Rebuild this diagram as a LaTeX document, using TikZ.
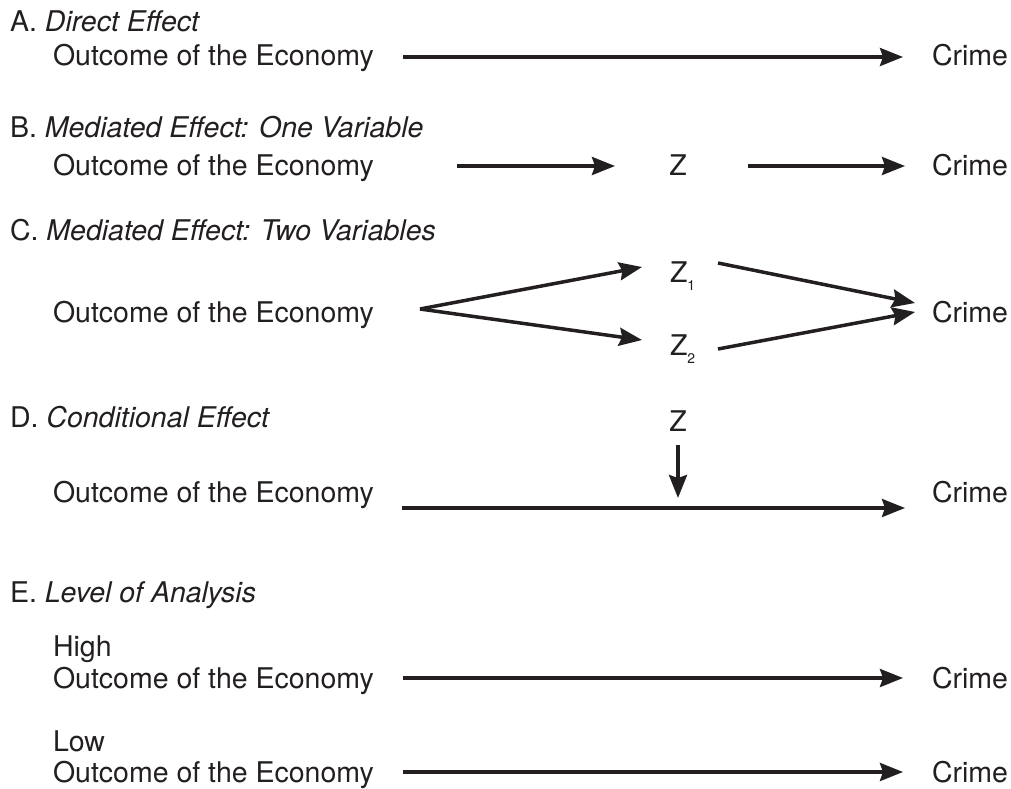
\documentclass[tikz,border=0pt]{standalone}
\usepackage{fontspec}
\setmainfont{TeX Gyre Heros}
\usetikzlibrary{arrows.meta}
\definecolor{ink}{HTML}{231F20}
\begin{document}
\begin{tikzpicture}[x=1pt,y=-1pt,
  txt/.style={inner sep=0pt,outer sep=0pt,anchor=base west,text=ink,font=\fontsize{28.5}{34}\selectfont},
  ctr/.style={txt,anchor=base},
  arr/.style={draw=ink,line width=3.5pt,-{Stealth[length=23pt,width=18pt,inset=3pt]}}]
\useasboundingbox (0,0) rectangle (1011,789);
\newcommand{\zsub}[1]{Z\raisebox{-8pt}{\fontsize{14}{14}\selectfont #1}}
% A
\node[txt] (labA) at (10,32) {A. \textit{Direct Effect}};
\node[txt] (outA) at (53,66) {Outcome of the Economy};
\node[txt] (crA) at (932,66) {Crime};
\coordinate (a0) at (403,57);
\coordinate (a1) at (903,57);
\draw[arr] (a0) -- (a1);
% B
\node[txt] (labB) at (10,137) {B. \textit{Mediated Effect: One Variable}};
\node[txt] (outB) at (53,175) {Outcome of the Economy};
\node[ctr] (zB) at (678,175) {Z};
\node[txt] (crB) at (932,175) {Crime};
\coordinate (b0) at (457,166);
\coordinate (b1) at (615,166);
\coordinate (b2) at (748,166);
\coordinate (b3) at (905,166);
\draw[arr] (b0) -- (b1);
\draw[arr] (b2) -- (b3);
% C
\node[txt] (labC) at (10,240) {C. \textit{Mediated Effect: Two Variables}};
\node[txt] (outC) at (53,322) {Outcome of the Economy};
\node[txt] (z1) at (670,282) {\zsub{1}};
\node[txt] (z2) at (670,355) {\zsub{2}};
\node[txt] (crC) at (932,322) {Crime};
\coordinate (c0) at (420,309);
\coordinate (c1) at (642,267);
\coordinate (c2) at (642,340);
\coordinate (c3) at (718,263);
\coordinate (c4) at (718,349);
\coordinate (c5) at (915,303);
\coordinate (c6) at (915,312);
\draw[arr] (c0) -- (c1);
\draw[arr] (c0) -- (c2);
\draw[arr] (c3) -- (c5);
\draw[arr] (c4) -- (c6);
% D
\node[txt] (labD) at (10,427) {D. \textit{Conditional Effect}};
\node[ctr] (zD) at (678,431) {Z};
\node[txt] (outD) at (53,502) {Outcome of the Economy};
\node[txt] (crD) at (932,502) {Crime};
\coordinate (d0) at (402,508);
\coordinate (d1) at (905,508);
\coordinate (d2) at (678,445);
\coordinate (d3) at (678,498);
\draw[arr] (d0) -- (d1);
\draw[arr] (d2) -- (d3);
% E
\node[txt] (labE) at (10,602) {E. \textit{Level of Analysis}};
\node[txt] (hi) at (53,656) {High};
\node[txt] (outE1) at (53,688) {Outcome of the Economy};
\node[txt] (crE1) at (932,688) {Crime};
\node[txt] (lo) at (53,751) {Low};
\node[txt] (outE2) at (53,782) {Outcome of the Economy};
\node[txt] (crE2) at (932,782) {Crime};
\coordinate (e0) at (403,678);
\coordinate (e1) at (903,678);
\coordinate (e2) at (403,772);
\coordinate (e3) at (903,772);
\draw[arr] (e0) -- (e1);
\draw[arr] (e2) -- (e3);
\end{tikzpicture}
\end{document}
